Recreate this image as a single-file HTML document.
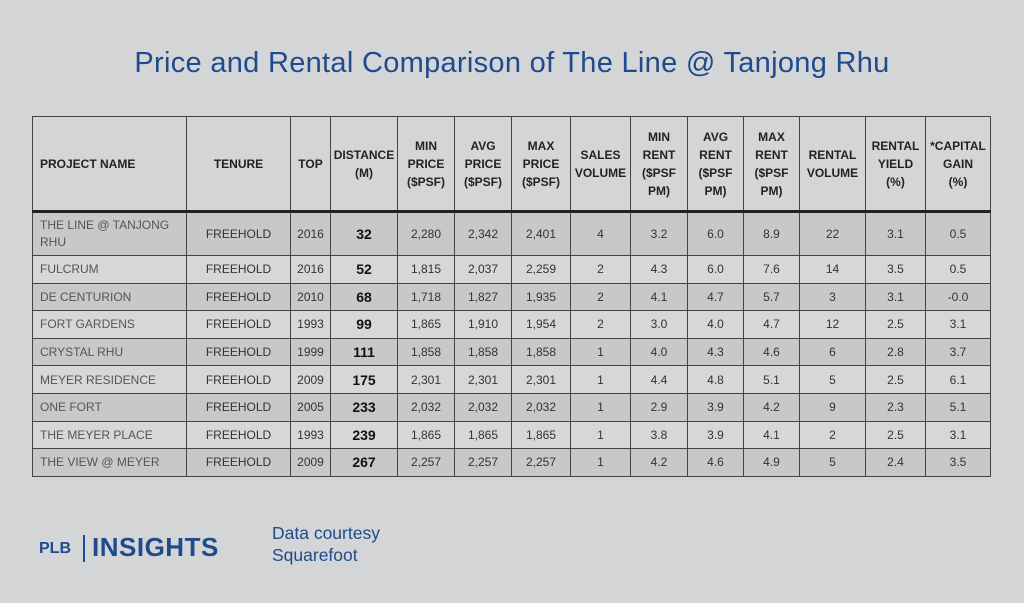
<!DOCTYPE html>
<html><head><meta charset="utf-8">
<style>
html,body{margin:0;padding:0;}
body{width:1024px;height:603px;background:#d4d5d7;font-family:"Liberation Sans",Arial,sans-serif;position:relative;overflow:hidden;}
#title{position:absolute;left:0;top:47px;width:1024px;text-align:center;color:#1f4a8c;font-size:29px;letter-spacing:0.3px;}
table{position:absolute;left:32px;top:116px;border-collapse:collapse;table-layout:fixed;width:958px;border:1.5px solid #333;}
td,th{border:1px solid #444;text-align:center;font-size:12px;color:#222;padding:0;}
th{font-weight:bold;height:93px;line-height:18px;border-bottom:3px solid #222;background:#d4d5d7;}
th.first,td.first{text-align:left;padding-left:7px;}
td{color:#333;}
tr.r0 td{background:#c7c8ca;}
tr.r1 td{background:#d6d7d9;}
td.dist{font-weight:bold;font-size:14px;color:#111;}
td.first{color:#555;}
#plb{position:absolute;left:39px;top:540px;font-size:16px;color:#1f4a8c;font-weight:bold;}
#bar{position:absolute;left:83px;top:535px;width:1.5px;height:27px;background:#1f4a8c;}
#ins{position:absolute;left:92px;top:532px;font-size:26px;color:#1f4a8c;font-weight:bold;letter-spacing:0.5px;}
#court{position:absolute;left:272px;top:522px;font-size:17.5px;color:#1f4a8c;line-height:22px;}
</style></head>
<body>
<div id="title">Price and Rental Comparison of The Line @ Tanjong Rhu</div>
<table id="tbl">
<colgroup><col style="width:154px"><col style="width:104px"><col style="width:40px"><col style="width:67px"><col style="width:57px"><col style="width:57px"><col style="width:59px"><col style="width:60px"><col style="width:57px"><col style="width:56px"><col style="width:56px"><col style="width:66px"><col style="width:60px"><col style="width:65px"></colgroup>
<thead><tr id="hdr"></tr></thead>
<tbody id="body"></tbody>
</table>
<div id="plb">PLB</div>
<div id="bar"></div>
<div id="ins">INSIGHTS</div>
<div id="court">Data courtesy<br>Squarefoot</div>
<script>
const headers=["PROJECT NAME","TENURE","TOP","DISTANCE<br>(M)","MIN<br>PRICE<br>($PSF)","AVG<br>PRICE<br>($PSF)","MAX<br>PRICE<br>($PSF)","SALES<br>VOLUME","MIN<br>RENT<br>($PSF<br>PM)","AVG<br>RENT<br>($PSF<br>PM)","MAX<br>RENT<br>($PSF<br>PM)","RENTAL<br>VOLUME","RENTAL<br>YIELD<br>(%)","*CAPITAL<br>GAIN<br>(%)"];
const projects=["THE LINE @ TANJONG RHU","FULCRUM","DE CENTURION","FORT GARDENS","CRYSTAL RHU","MEYER RESIDENCE","ONE FORT","THE MEYER PLACE","THE VIEW @ MEYER"];
const tenure=["FREEHOLD","FREEHOLD","FREEHOLD","FREEHOLD","FREEHOLD","FREEHOLD","FREEHOLD","FREEHOLD","FREEHOLD"];
const topYear=["2016","2016","2010","1993","1999","2009","2005","1993","2009"];
const distance=["32","52","68","99","111","175","233","239","267"];
const minPrice=["2,280","1,815","1,718","1,865","1,858","2,301","2,032","1,865","2,257"];
const avgPrice=["2,342","2,037","1,827","1,910","1,858","2,301","2,032","1,865","2,257"];
const maxPrice=["2,401","2,259","1,935","1,954","1,858","2,301","2,032","1,865","2,257"];
const salesVol=["4","2","2","2","1","1","1","1","1"];
const minRent=["3.2","4.3","4.1","3.0","4.0","4.4","2.9","3.8","4.2"];
const avgRent=["6.0","6.0","4.7","4.0","4.3","4.8","3.9","3.9","4.6"];
const maxRent=["8.9","7.6","5.7","4.7","4.6","5.1","4.2","4.1","4.9"];
const rentalVol=["22","14","3","12","6","5","9","2","5"];
const yieldPct=["3.1","3.5","3.1","2.5","2.8","2.5","2.3","2.5","2.4"];
const capGain=["0.5","0.5","-0.0","3.1","3.7","6.1","5.1","3.1","3.5"];
const hdr=document.getElementById('hdr');
headers.forEach((h,i)=>{
  const th=document.createElement('th');
  
  
  if(i===0)th.className='first';
  th.innerHTML=h;hdr.appendChild(th);
});
const body=document.getElementById('body');
projects.forEach((p,r)=>{
  const tr=document.createElement('tr');
  
  
  tr.className=r%2===0?'r0':'r1';
  tr.style.height=(r===0?44:27.6)+'px';
  const vals=[p,tenure[r],topYear[r],distance[r],minPrice[r],avgPrice[r],maxPrice[r],salesVol[r],minRent[r],avgRent[r],maxRent[r],rentalVol[r],yieldPct[r],capGain[r]];
  vals.forEach((v,c)=>{
    const td=document.createElement('td');
    
    
    if(c===0)td.className='first';
    if(c===3)td.className='dist';
    if(c===0&&r===0){td.style.lineHeight='17px';}
    td.textContent=v;tr.appendChild(td);
  });
  body.appendChild(tr);
});
</script>
</body></html>
